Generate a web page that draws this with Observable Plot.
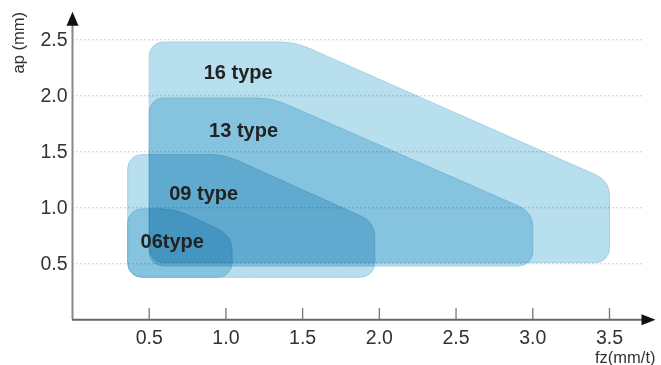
<!DOCTYPE html>
<html>
<head>
<meta charset="utf-8">
<script src="https://cdn.jsdelivr.net/npm/d3@7"></script>
<script src="https://cdn.jsdelivr.net/npm/@observablehq/plot@0.6"></script>
<style>
  html, body { margin: 0; padding: 0; background: #fff; }
  g[aria-label="line"] path { mix-blend-mode: multiply; }
</style>
</head>
<body>
<div id="chart"></div>
<script>
// ---- data ----
const xTicks = [0.5, 1.0, 1.5, 2.0, 2.5, 3.0, 3.5];
const yTicks = [0.5, 1.0, 1.5, 2.0, 2.5];
const xMax = 3.8;   // end of fz axis (arrow tip)
const yMax = 2.75;  // end of ap axis (arrow tip)
const gridEnd = 3.72;

const typeNames = ["16 type", "13 type", "09 type", "06type"];
const labelX = [1.08, 1.115, 0.855, 0.65];
const labelY = [2.21, 1.69, 1.13, 0.70];

// outline vertices [fz, ap] of each cutting-range region
const shape16 = [[0.5, 0.51], [0.5, 2.48], [1.45, 2.48], [3.5, 1.24], [3.5, 0.51]];
const shape13 = [[0.5, 0.48], [0.5, 1.98], [1.30, 1.98], [3.0, 0.96], [3.0, 0.48]];
const shape09 = [[0.36, 0.38], [0.36, 1.475], [0.99, 1.475], [1.97, 0.87], [1.97, 0.38]];
const shape06 = [[0.36, 0.38], [0.36, 0.99], [0.67, 0.99], [1.04, 0.75], [1.04, 0.38]];
const shapes = [shape16, shape13, shape09, shape06];

// ---- custom closed curve with rounded corners ----
function roundedClosed(tangent) {
  return function (context) {
    let pts = [];
    return {
      areaStart() {}, areaEnd() {},
      lineStart() { pts = []; },
      point(x, y) { pts.push([+x, +y]); },
      lineEnd() {
        const n = pts.length;
        if (!n) return;
        const a = pts[n - 1], b = pts[0];
        context.moveTo((a[0] + b[0]) / 2, (a[1] + b[1]) / 2);
        for (let i = 0; i < n; i++) {
          const p = pts[i], q = pts[(i + 1) % n], o = pts[(i - 1 + n) % n];
          const ux = o[0] - p[0], uy = o[1] - p[1], vx = q[0] - p[0], vy = q[1] - p[1];
          const lu = Math.hypot(ux, uy), lv = Math.hypot(vx, vy);
          const cos = (ux * vx + uy * vy) / (lu * lv);
          const ang = Math.acos(Math.max(-1, Math.min(1, cos)));
          const tl = Math.min(tangent, lu / 2, lv / 2);
          const r = tl * Math.tan(ang / 2);
          context.arcTo(p[0], p[1], q[0], q[1], r);
        }
        context.closePath();
      }
    };
  };
}

const arrowUp = { draw(ctx) { ctx.moveTo(0, 0); ctx.lineTo(6, 14); ctx.lineTo(-6, 14); ctx.closePath(); } };
const arrowRight = { draw(ctx) { ctx.moveTo(0, 0); ctx.lineTo(-14, -5.5); ctx.lineTo(-14, 5.5); ctx.closePath(); } };

const fmt = d3.format(".1f");
const labels = typeNames.map((t, i) => ({ t, x: labelX[i], y: labelY[i] }));

const chart = Plot.plot({
  width: 661,
  height: 365,
  marginLeft: 72,
  marginRight: 6,
  marginTop: 11.3,
  marginBottom: 45.7,
  x: { domain: [0, xMax], ticks: xTicks, tickSize: 0, tickPadding: 10, tickFormat: fmt, label: null },
  y: { domain: [0, yMax], ticks: yTicks, tickSize: 0, tickPadding: 5, tickFormat: fmt, label: null },
  style: { fontFamily: "'Liberation Sans', Arial, sans-serif", fontSize: "19.5px", color: "#333", background: "white", overflow: "visible" },
  marks: [
    Plot.ruleY(yTicks, { x1: 0, x2: gridEnd, stroke: "#c4c4c4", strokeWidth: 0.8, strokeDasharray: "2,2" }),
    ...shapes.map(s => Plot.line(s, {
      x: d => d[0], y: d => d[1],
      curve: roundedClosed(14),
      fill: "#b8dfee", stroke: "#a6d0e4", strokeWidth: 1
    })),
    Plot.text(labels, { x: "x", y: "y", text: "t", fontWeight: "bold", fontSize: 20, fill: "#222" }),
    Plot.ruleX([0], { y1: 0, y2: yMax - 0.05, stroke: "#888", strokeWidth: 2 }),
    Plot.ruleY([0], { x1: 0, x2: xMax - 0.05, stroke: "#666", strokeWidth: 2 }),
    Plot.ruleX(xTicks, { y1: 0, y2: 0.1, stroke: "#777", strokeWidth: 1.3 }),
    Plot.dot([{ x: 0, y: yMax }], { x: "x", y: "y", symbol: arrowUp, fill: "#111", stroke: null }),
    Plot.dot([{ x: xMax, y: 0 }], { x: "x", y: "y", symbol: arrowRight, fill: "#111", stroke: null }),
    Plot.text(["ap (mm)"], { frameAnchor: "top-left", dx: -54, dy: 31, rotate: -90, textAnchor: "middle", lineAnchor: "middle", fontSize: 16.5, fill: "#333" }),
    Plot.text(["fz(mm/t)"], { frameAnchor: "bottom-right", dx: 0, dy: 38, textAnchor: "end", lineAnchor: "middle", fontSize: 16.5, fill: "#333" })
  ]
});
document.getElementById("chart").appendChild(chart);
</script>
</body>
</html>
